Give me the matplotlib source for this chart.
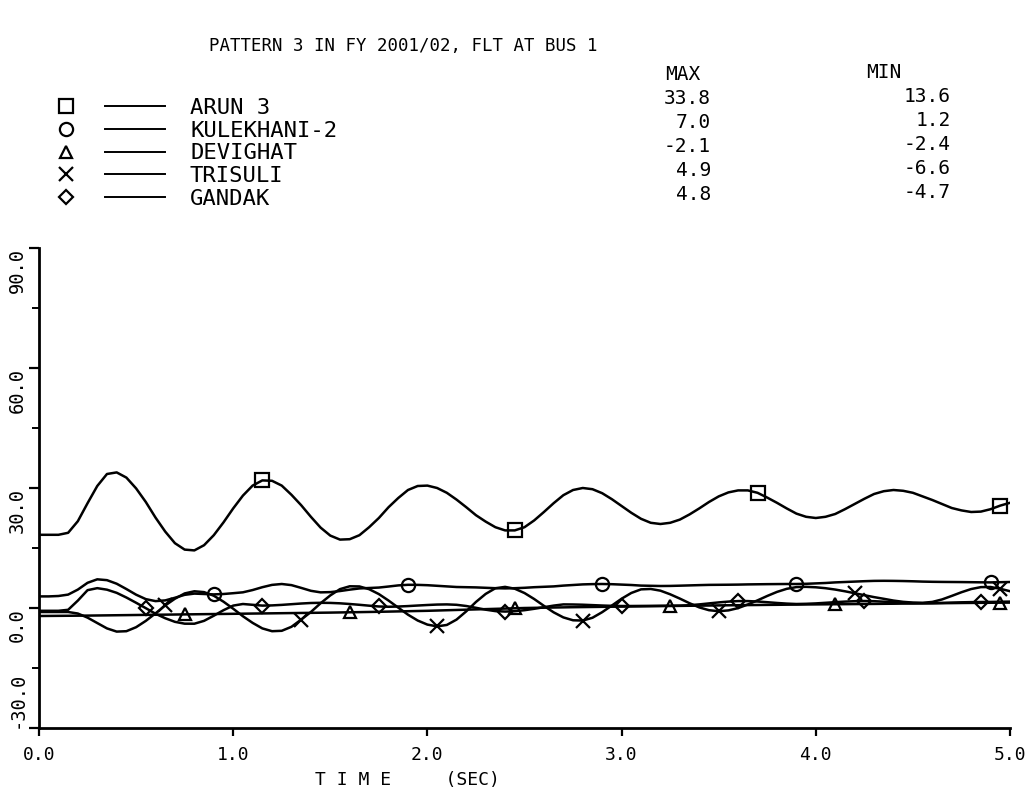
import numpy as np
import matplotlib
matplotlib.use("Agg")
import matplotlib.pyplot as plt
from matplotlib.lines import Line2D
from matplotlib.legend_handler import HandlerTuple

plt.rcParams['font.family'] = ['DejaVu Sans Mono']

# sample times (s) and values
time = np.linspace(0.0, 5.0, 101)

names = ["ARUN 3", "KULEKHANI-2", "DEVIGHAT", "TRISULI", "GANDAK"]
max_vals = [33.8, 7.0, -2.1, 4.9, 4.8]
min_vals = [13.6, 1.2, -2.4, -6.6, -4.7]

arun3 = [18.3, 18.3, 18.3, 18.8, 21.7, 26.2, 30.5, 33.5, 33.9, 32.6,
         29.9, 26.5, 22.6, 19.1, 16.2, 14.6, 14.4, 15.7, 18.2, 21.4,
         24.9, 28.1, 30.6, 31.9, 31.8, 30.6, 28.3, 25.7, 22.8, 20.1,
         18.1, 17.1, 17.2, 18.2, 20.2, 22.5, 25.2, 27.5, 29.5, 30.5,
         30.6, 30.0, 28.8, 27.1, 25.2, 23.2, 21.6, 20.2, 19.4, 19.4,
         20.2, 21.9, 24.0, 26.2, 28.2, 29.5, 30.0, 29.7, 28.7, 27.2,
         25.5, 23.8, 22.3, 21.3, 21.0, 21.3, 22.1, 23.4, 24.9, 26.5,
         27.9, 28.9, 29.4, 29.4, 28.8, 27.6, 26.3, 24.9, 23.6, 22.8,
         22.5, 22.8, 23.5, 24.7, 26.0, 27.3, 28.5, 29.2, 29.5, 29.3,
         28.8, 27.9, 27.0, 26.0, 25.0, 24.4, 24.0, 24.1, 24.7, 25.6,
         26.3]

kulekhani = [2.9, 2.9, 3.0, 3.35, 4.6, 6.3, 7.17, 6.96, 6.07, 4.74,
             3.33, 2.22, 1.72, 1.9, 2.56, 3.29, 3.6, 3.5, 3.4, 3.5,
             3.7, 3.92, 4.49, 5.2, 5.78, 6.0, 5.72, 5.03, 4.3, 3.91,
             3.97, 4.24, 4.59, 4.89, 5.0, 5.11, 5.37, 5.65, 5.8, 5.78,
             5.7, 5.55, 5.4, 5.25, 5.2, 5.15, 5.05, 4.95, 4.9, 4.95,
             5.05, 5.2, 5.3, 5.4, 5.6, 5.75, 5.9, 5.97, 6.0, 5.95,
             5.85, 5.75, 5.6, 5.55, 5.5, 5.52, 5.58, 5.65, 5.72, 5.78,
             5.8, 5.82, 5.85, 5.9, 5.93, 5.96, 5.98, 6.0, 6.0, 6.05,
             6.15, 6.25, 6.4, 6.5, 6.6, 6.7, 6.78, 6.8, 6.78, 6.74,
             6.68, 6.6, 6.55, 6.52, 6.5, 6.48, 6.45, 6.42, 6.4, 6.45,
             6.5]

devighat = [-2.0, -1.98, -1.96, -1.94, -1.92, -1.9, -1.87, -1.84, -1.81, -1.78,
            -1.75, -1.72, -1.69, -1.66, -1.63, -1.6, -1.57, -1.54, -1.51, -1.48,
            -1.45, -1.42, -1.39, -1.36, -1.33, -1.3, -1.27, -1.24, -1.21, -1.18,
            -1.15, -1.11, -1.07, -1.03, -0.99, -0.95, -0.9, -0.85, -0.8, -0.75,
            -0.7, -0.63, -0.56, -0.49, -0.42, -0.35, -0.28, -0.21, -0.14, -0.07,
            0.0, 0.04, 0.08, 0.12, 0.16, 0.2, 0.23, 0.26, 0.29, 0.32,
            0.35, 0.38, 0.41, 0.44, 0.47, 0.5, 0.53, 0.56, 0.59, 0.62,
            0.65, 0.68, 0.7, 0.73, 0.75, 0.78, 0.8, 0.83, 0.85, 0.88,
            0.9, 0.92, 0.94, 0.96, 0.98, 1.0, 1.02, 1.05, 1.07, 1.1,
            1.12, 1.15, 1.17, 1.2, 1.22, 1.25, 1.27, 1.29, 1.31, 1.33,
            1.35]

trisuli = [-1.0, -1.0, -1.0, -1.0, -1.38, -2.41, -3.76, -5.1, -5.9, -5.8,
           -4.8, -3.22, -1.34, 0.64, 2.32, 3.64, 4.18, 3.97, 3.07, 1.58,
           -0.18, -2.06, -3.72, -5.1, -5.8, -5.7, -4.7, -2.9, -1.0, 1.19,
           3.15, 4.72, 5.43, 5.39, 4.7, 3.48, 1.86, 0.09, -1.67, -3.13,
           -4.15, -4.59, -4.24, -2.9, -0.84, 1.51, 3.52, 4.94, 5.28, 4.82,
           3.74, 2.24, 0.54, -1.08, -2.35, -3.07, -3.14, -2.44, -1.04, 0.62,
           2.32, 3.76, 4.66, 4.76, 4.33, 3.43, 2.35, 1.19, 0.15, -0.55,
           -0.8, -0.6, -0.02, 0.88, 1.91, 3.01, 4.02, 4.79, 5.23, 5.29,
           5.18, 4.95, 4.61, 4.18, 3.7, 3.2, 2.72, 2.3, 1.86, 1.54,
           1.36, 1.3, 1.52, 2.14, 3.02, 3.94, 4.74, 5.22, 5.25, 4.8,
           4.2]

gandak = [-0.7, -0.7, -0.7, -0.45, 1.85, 4.46, 4.96, 4.58, 3.79, 2.62,
          1.31, -0.04, -1.44, -2.56, -3.46, -3.92, -3.93, -3.21, -1.93, -0.55,
          0.6, 1.0, 0.8, 0.6, 0.65, 0.78, 0.95, 1.12, 1.25, 1.3,
          1.27, 1.17, 1.0, 0.8, 0.58, 0.38, 0.31, 0.37, 0.48, 0.62,
          0.75, 0.86, 0.9, 0.8, 0.5, 0.05, -0.42, -0.78, -0.89, -0.8,
          -0.55, -0.2, 0.2, 0.6, 0.9, 0.88, 0.82, 0.72, 0.62, 0.54,
          0.5, 0.5, 0.52, 0.54, 0.56, 0.58, 0.6, 0.7, 0.9, 1.15,
          1.4, 1.6, 1.73, 1.73, 1.62, 1.45, 1.26, 1.1, 1.0, 1.05,
          1.15, 1.3, 1.46, 1.6, 1.7, 1.75, 1.7, 1.58, 1.44, 1.3,
          1.22, 1.2, 1.22, 1.28, 1.35, 1.42, 1.47, 1.5, 1.52, 1.56,
          1.6]

# times where the plotter put a symbol on each curve
arun3_marks = [1.17, 2.43, 3.68, 4.94]
kulekhani_marks = [0.91, 1.91, 2.91, 3.91, 4.9]
devighat_marks = [0.76, 1.58, 2.43, 3.26, 4.09, 4.94]
trisuli_marks = [0.64, 1.36, 2.07, 2.78, 3.49, 4.2, 4.94]
gandak_marks = [0.55, 1.15, 1.77, 2.38, 2.99, 3.61, 4.24, 4.86]

x_ticks = [0, 1, 2, 3, 4, 5]
x_labels = ["0.0", "1.0", "2.0", "3.0", "4.0", "5.0"]
y_ticks = [-30, 0, 30, 60, 90]
y_labels = ["-30.0", "0.0", "30.0", "60.0", "90.0"]

series = [arun3, kulekhani, devighat, trisuli, gandak]
marks = [arun3_marks, kulekhani_marks, devighat_marks, trisuli_marks, gandak_marks]
symbols = [('s', 9.5), ('o', 9.5), ('^', 8.5), ('x', 10), ('D', 7.5)]

fig = plt.figure(figsize=(10.27, 7.92), dpi=100)
ax = fig.add_axes([39 / 1027, 64 / 792, 971 / 1027, 480 / 792])

handles = []
for vals, mk, (m, ms) in zip(series, marks, symbols):
    idx = [int(np.abs(time - t).argmin()) for t in mk]
    ax.plot(time, vals, color='black', lw=1.8, marker=m, ms=ms, mfc='none',
            mec='black', mew=1.6, markevery=idx)
    sym = Line2D([], [], ls='none', marker=m, ms=ms, mfc='none', mec='black', mew=1.6)
    seg = Line2D([], [], color='black', lw=1.4)
    handles.append((sym, seg))

fs = 16
em = fs * 100 / 72
ax.legend(handles, names, handler_map={tuple: HandlerTuple(ndivide=None, pad=0.4)},
          loc='upper left', bbox_to_anchor=(36 / 1027, 1 - 98 / 792),
          bbox_transform=fig.transFigure, frameon=False, borderpad=0,
          borderaxespad=0, handlelength=129 / em, handletextpad=25 / em,
          labelspacing=0.12, prop={'size': fs})

# MAX / MIN columns (the scan is slightly skewed, right side a bit higher)
fig.text(683 / 1027, 1 - 75 / 792, "MAX", fontsize=14, ha='center', va='center')
fig.text(884 / 1027, 1 - 72 / 792, "MIN", fontsize=14, ha='center', va='center')
for i, (mx, mn) in enumerate(zip(max_vals, min_vals)):
    fig.text(711 / 1027, 1 - (99 + 24 * i) / 792, f"{mx:.1f}", fontsize=14,
             ha='right', va='center')
    fig.text(951 / 1027, 1 - (96 + 24 * i) / 792, f"{mn:.1f}", fontsize=14,
             ha='right', va='center')

fig.text(403 / 1027, 1 - 46 / 792, "PATTERN 3 IN FY 2001/02, FLT AT BUS 1",
         fontsize=12.5, ha='center', va='center')

ax.set_xlim(0, 5)
ax.set_ylim(-30, 90)
ax.set_xticks(x_ticks, labels=x_labels)
ax.set_yticks(y_ticks, labels=y_labels)
ax.set_yticks([-15, 15, 45, 75], minor=True)
ax.tick_params(axis='x', which='major', length=6, width=1.6, pad=7, labelsize=13)
ax.tick_params(axis='y', which='major', length=7, width=1.6, pad=2, labelsize=13.5,
               labelrotation=90)
ax.tick_params(axis='y', which='minor', length=5, width=1.4)
for i, lab in enumerate(ax.get_yticklabels()):
    lab.set_va('bottom' if i == 0 else 'top')

ax.set_xlabel("T I M E     (SEC)", fontsize=13, ha='left', va='center')
ax.xaxis.set_label_coords((315 - 39) / 971, (728 - 780) / 480)

for s in ['top', 'right']:
    ax.spines[s].set_visible(False)
for s in ['left', 'bottom']:
    ax.spines[s].set_linewidth(2.0)

fig.savefig('out.png', dpi=100)
